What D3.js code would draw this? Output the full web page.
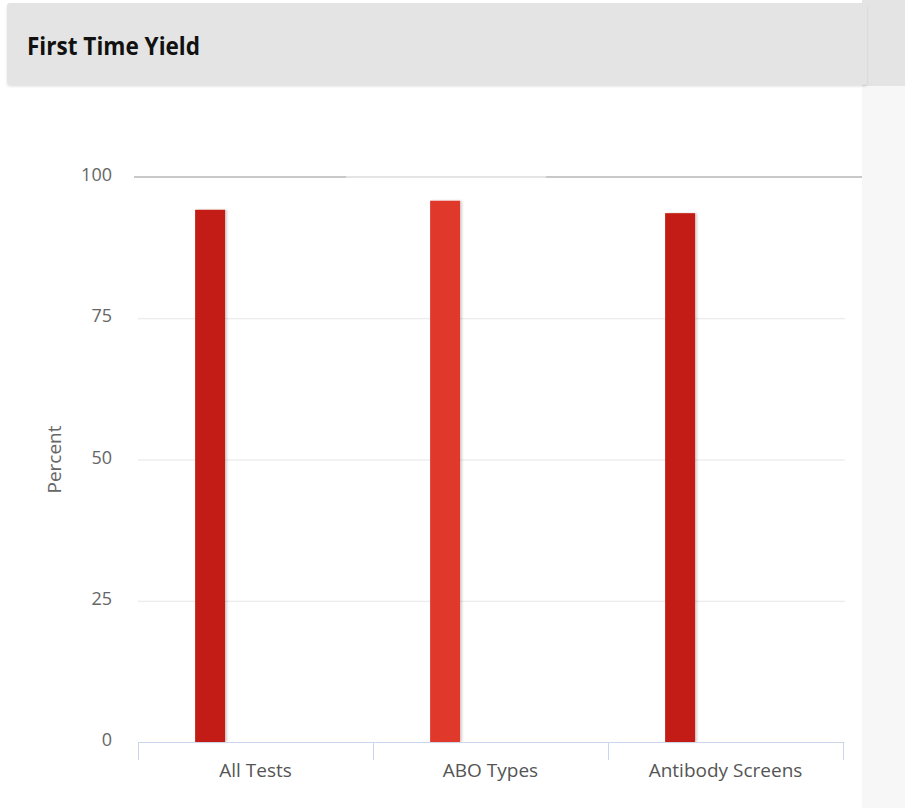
<!DOCTYPE html>
<html>
<head>
<meta charset="utf-8">
<script src="https://cdn.jsdelivr.net/npm/d3@7"></script>
<style>
  html, body { margin: 0; padding: 0; background: #ffffff; }
  svg { display: block; }
</style>
</head>
<body>
<svg id="chart" width="905" height="808"></svg>
<script>
const title = "First Time Yield";
const categories = ["All Tests", "ABO Types", "Antibody Screens"];
const values = [94.2, 95.8, 93.6];
const barColors = ["#c31f14", "#e0392c", "#c31f14"];
const yTicks = [0, 25, 50, 75, 100];
const yLabel = "Percent";

const svg = d3.select("#chart");
const W = 905, H = 808;
const FONT = "'Open Sans', 'DejaVu Sans', sans-serif";

// background panels
svg.append("rect").attr("x", 0).attr("y", 0).attr("width", W).attr("height", H).attr("fill", "#ffffff");
svg.append("rect").attr("x", 862).attr("y", 84).attr("width", 43).attr("height", H - 84).attr("fill", "#f7f7f7");
svg.append("rect").attr("x", 862).attr("y", 0).attr("width", 43).attr("height", 86).attr("fill", "#e3e4e3");
// header
const defs = svg.append("defs");
const f = defs.append("filter").attr("id", "hshadow").attr("x", "-5%").attr("y", "-20%").attr("width", "110%").attr("height", "150%");
f.append("feDropShadow").attr("dx", 0).attr("dy", 1.5).attr("stdDeviation", 1.2).attr("flood-color", "#000").attr("flood-opacity", 0.12);
svg.append("rect").attr("x", 7).attr("y", 3).attr("width", 860).attr("height", 82)
  .attr("rx", 3).attr("fill", "#e3e4e3").attr("filter", "url(#hshadow)");
svg.append("text").attr("x", 27).attr("y", 55)
  .attr("font-family", "'Open Sans', 'Liberation Sans', sans-serif")
  .attr("font-weight", "bold").attr("font-size", 25)
  .attr("textLength", 173).attr("lengthAdjust", "spacingAndGlyphs")
  .attr("fill", "#111").text(title);

// scales
const y = d3.scaleLinear().domain([0, 100]).range([742, 177]);
const x = d3.scaleBand().domain(categories).range([138, 843]).padding(0);

// gridlines
const grid = svg.append("g");
grid.selectAll("line.g").data(yTicks.filter(t => t > 0 && t < 100)).join("line")
  .attr("x1", 138).attr("x2", 845)
  .attr("y1", d => y(d) + 0.5).attr("y2", d => y(d) + 0.5)
  .attr("stroke", "#e6e6e6").attr("stroke-width", 1);
// top (100) gridline, heavier with soft shadow
const gf = defs.append("filter").attr("id", "gshadow").attr("x", "-2%").attr("y", "-300%").attr("width", "104%").attr("height", "700%");
gf.append("feGaussianBlur").attr("stdDeviation", 1.2);
svg.append("line").attr("x1", 133).attr("x2", 866).attr("y1", y(100) + 1).attr("y2", y(100) + 1)
  .attr("stroke", "#cccccc").attr("stroke-width", 4).attr("filter", "url(#gshadow)");
svg.append("line").attr("x1", 134).attr("x2", 862).attr("y1", y(100)).attr("y2", y(100))
  .attr("stroke", "#c8c8c8").attr("stroke-width", 2);

// faint tooltip-like box remnant over ABO Types
svg.append("rect").attr("x", 346).attr("y", 88).attr("width", 200).attr("height", 116)
  .attr("fill", "#ffffff").attr("opacity", 0.5);

// bars
const bf = defs.append("filter").attr("id", "bshadow").attr("x", "-20%").attr("y", "-5%").attr("width", "150%").attr("height", "110%");
bf.append("feDropShadow").attr("dx", 2).attr("dy", 0).attr("stdDeviation", 1.2).attr("flood-color", "#000").attr("flood-opacity", 0.18);
const barW = 30;
const barOffset = x.bandwidth() * 0.243;
svg.append("g").selectAll("rect").data(categories).join("rect")
  .attr("x", d => x(d) + barOffset)
  .attr("y", (d, i) => y(values[i]))
  .attr("width", barW)
  .attr("height", (d, i) => y(0) - y(values[i]))
  .attr("fill", (d, i) => barColors[i])
  .attr("filter", "url(#bshadow)");

// x axis
const xAxis = d3.axisBottom(x).tickSize(18).tickSizeOuter(0).tickFormat(() => "");
const xg = svg.append("g").attr("transform", `translate(0,${y(0)})`).call(xAxis);
xg.select(".domain").attr("stroke", "#ccd6eb").attr("d", "M138.5,0.5H844.5");
xg.selectAll(".tick").remove();
const bounds = categories.map(c => x(c)).concat([x(categories[categories.length - 1]) + x.bandwidth()]);
xg.selectAll("line.b").data(bounds).join("line")
  .attr("x1", d => Math.round(d) + 0.5).attr("x2", d => Math.round(d) + 0.5)
  .attr("y1", 0).attr("y2", 18).attr("stroke", "#ccd6eb");
xg.selectAll("text.c").data(categories).join("text")
  .attr("x", d => x(d) + x.bandwidth() / 2).attr("y", 35)
  .attr("text-anchor", "middle")
  .attr("font-family", FONT)
  .attr("font-size", 19).attr("fill", "#555")
  .text(d => d);

// y axis labels
const yAxis = d3.axisLeft(y).tickValues(yTicks).tickSize(0).tickPadding(0);
const yg = svg.append("g").attr("transform", "translate(112,0)").call(yAxis);
yg.select(".domain").remove();
yg.selectAll("text")
  .attr("font-family", FONT)
  .attr("font-size", 18).attr("fill", "#666")
  .attr("dy", "0.2em");

svg.append("text")
  .attr("transform", `translate(61,${y(50)}) rotate(-90)`)
  .attr("text-anchor", "middle")
  .attr("font-family", FONT)
  .attr("font-size", 19).attr("fill", "#666")
  .text(yLabel);
</script>
</body>
</html>
